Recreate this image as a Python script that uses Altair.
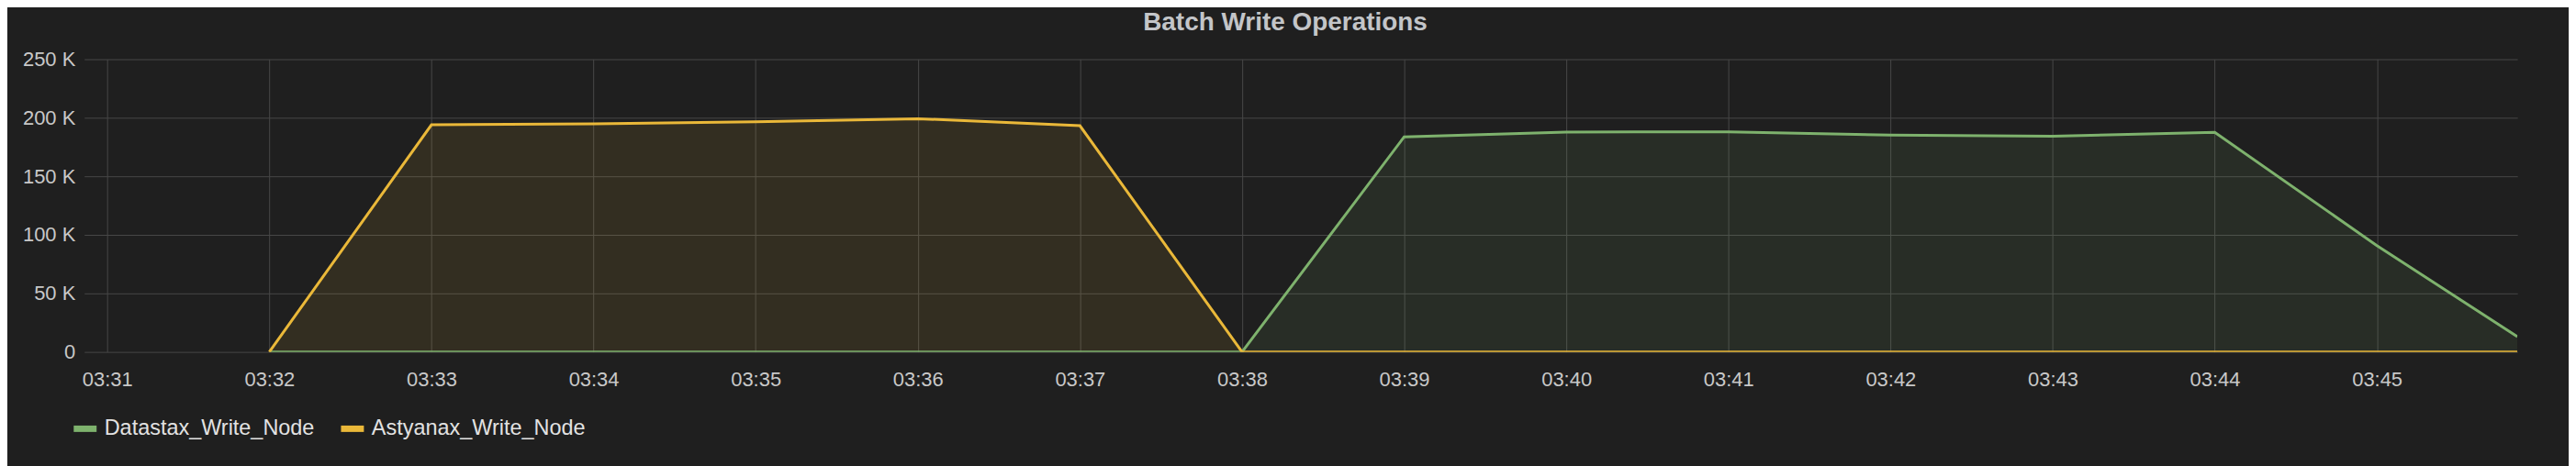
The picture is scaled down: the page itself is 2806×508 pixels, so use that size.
import altair as alt
import pandas as pd

# ---- data ----
times = [
    "2017-01-01T03:32:00Z", "2017-01-01T03:33:00Z", "2017-01-01T03:34:00Z",
    "2017-01-01T03:35:00Z", "2017-01-01T03:36:00Z", "2017-01-01T03:37:00Z",
    "2017-01-01T03:38:00Z", "2017-01-01T03:39:00Z", "2017-01-01T03:40:00Z",
    "2017-01-01T03:41:00Z", "2017-01-01T03:42:00Z", "2017-01-01T03:43:00Z",
    "2017-01-01T03:44:00Z", "2017-01-01T03:45:00Z", "2017-01-01T03:45:52Z",
]
datastax = [0, 0, 0, 0, 0, 0, 0, 183700, 187800, 188000, 185200, 184200, 187600, 90800, 13000]
astyanax = [0, 194000, 194800, 196600, 199200, 193200, 0, 0, 0, 0, 0, 0, 0, 0, 0]

series_names = ["Datastax_Write_Node", "Astyanax_Write_Node"]
series_colors = ["#7EB26D", "#EAB839"]
y_ticks = [0, 50000, 100000, 150000, 200000, 250000]
x_tick_minutes = list(range(31, 46))

rows = []
for t, v in zip(times, datastax):
    rows.append({"time": t, "value": v, "series": series_names[0]})
for t, v in zip(times, astyanax):
    rows.append({"time": t, "value": v, "series": series_names[1]})
df = pd.DataFrame(rows)

FONT = "Liberation Sans"

x_domain = [
    alt.DateTime(year=2017, month=1, date=1, hours=3, minutes=30, seconds=51, milliseconds=500, utc=True),
    alt.DateTime(year=2017, month=1, date=1, hours=3, minutes=45, seconds=52, utc=True),
]
x_values = [alt.DateTime(year=2017, month=1, date=1, hours=3, minutes=m, utc=True) for m in x_tick_minutes]

x_enc = alt.X(
    "time:T",
    scale=alt.Scale(type="utc", domain=x_domain),
    axis=alt.Axis(
        values=x_values,
        labelExpr="utcFormat(datum.value, '%H:%M')",
        title=None,
        grid=True,
        domain=False,
        ticks=False,
        tickSize=0,
        labelPadding=37,
        labelBaseline="alphabetic",
        labelFont=FONT,
        labelFontSize=22,
        labelColor="#c8c8c8",
        labelFlush=False,
        labelOverlap=False,
    ),
)
y_enc = alt.Y(
    "value:Q",
    scale=alt.Scale(domain=[0, 250000], nice=False, zero=True),
    axis=alt.Axis(
        values=y_ticks,
        labelExpr="datum.value == 0 ? '0' : (datum.value / 1000) + ' K'",
        title=None,
        grid=True,
        domain=False,
        ticks=False,
        tickSize=0,
        labelPadding=10,
        labelFont=FONT,
        labelFontSize=22,
        labelColor="#c8c8c8",
        labelFlush=False,
        labelOverlap=False,
    ),
)

color_scale = alt.Scale(domain=series_names, range=series_colors)

area = alt.Chart(df).mark_area(clip=True).encode(
    x=x_enc,
    y=y_enc,
    color=alt.Color("series:N", scale=color_scale),
    fillOpacity=alt.value(0.1),
)

line = alt.Chart(df).mark_line(clip=True).encode(
    x=x_enc,
    y=y_enc,
    color=alt.Color("series:N", scale=color_scale),
    strokeWidth=alt.value(3),
)

chart = alt.layer(area, line).properties(
    width=2658,
    height=320,
    autosize="none",
    padding={"left": 84, "top": 56, "right": 56, "bottom": 124},
    title=alt.TitleParams(
        "Batch Write Operations",
        font=FONT,
        fontSize=28,
        fontWeight="bold",
        color="#c3c5c8",
        anchor="middle",
        dx=-17,
        dy=-11,
    ),
).configure(
    background="#1f1f1f",
).configure_view(
    stroke=None,
).configure_axis(
    gridColor="#474747",
    gridWidth=1,
    gridOpacity=1,
).configure_legend(
    orient="none",
    legendX=-15,
    legendY=388,
    direction="horizontal",
    title=None,
    symbolType="stroke",
    symbolSize=625,
    symbolStrokeWidth=7,
    symbolOpacity=1,
    labelFont=FONT,
    labelFontSize=23.5,
    labelColor="#e2e2e2",
    labelOffset=5,
    labelLimit=500,
    columnPadding=14,
)

chart.save("out.html", embed_options={"renderer": "svg", "actions": False})
